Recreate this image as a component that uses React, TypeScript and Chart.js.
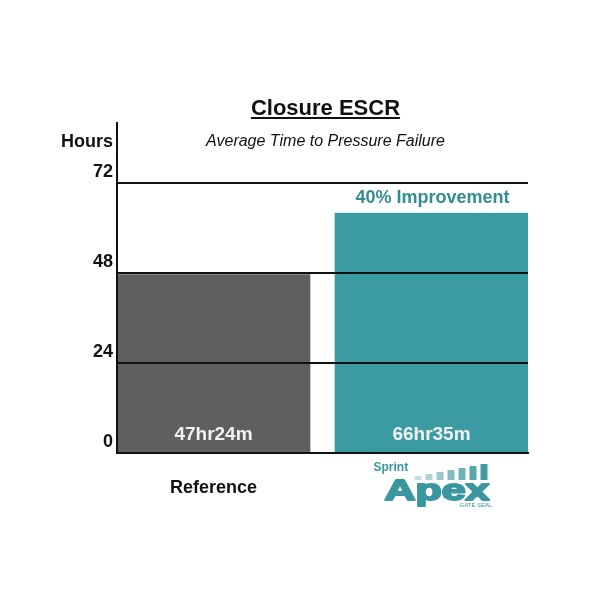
import { useEffect, useRef } from "react";
import { Chart, registerables } from "chart.js";

Chart.register(...registerables);

// Data
const categories = ["Reference", "Sprint Apex"];
const hours = [47.7, 64.1];
const durationLabels = ["47hr24m", "66hr35m"];
const yTicks = [0, 24, 48, 72];
const barColors = ["#5e5f5f", "#3b9ba3"];

const FONT = "'Liberation Sans', Arial, sans-serif";
const TEAL_TEXT = "#338e94";
const GAP = 12.5; // white gap between the bars, drawn as an inner border

const annotations = {
  id: "annotations",
  afterDraw(chart: any) {
    const { ctx, chartArea } = chart;
    const meta = chart.getDatasetMeta(0);
    const centre = (i: number) => {
      const el = meta.data[i];
      return i === 0 ? el.x - GAP / 2 : el.x + GAP / 2;
    };
    const midX = (chartArea.left + chartArea.right) / 2 + 3;

    ctx.save();
    ctx.textBaseline = "alphabetic";

    // title, underlined
    ctx.fillStyle = "#111";
    ctx.font = `bold 22px ${FONT}`;
    ctx.textAlign = "center";
    ctx.fillText("Closure ESCR", midX, 115);
    const tw = ctx.measureText("Closure ESCR").width;
    ctx.fillRect(midX - tw / 2, 117, tw, 2);

    // subtitle
    ctx.font = `italic 16px ${FONT}`;
    ctx.fillText("Average Time to Pressure Failure", midX, 146);

    // axis title
    ctx.font = `bold 18px ${FONT}`;
    ctx.textAlign = "right";
    ctx.fillText("Hours", chartArea.left - 4, 147);

    // bar values
    ctx.textAlign = "center";
    ctx.fillStyle = "#f2f2f2";
    ctx.font = `bold 19px ${FONT}`;
    durationLabels.forEach((t, i) => ctx.fillText(t, centre(i), 440));

    // improvement note above the second bar
    const top1 = meta.data[1].y;
    ctx.fillStyle = TEAL_TEXT;
    ctx.font = `bold 18px ${FONT}`;
    ctx.fillText("40% Improvement", centre(1) + 1, top1 - 10);

    // category labels
    ctx.fillStyle = "#111";
    ctx.font = `bold 18px ${FONT}`;
    ctx.fillText(categories[0], centre(0), 493);

    // logo for the second category
    const lx = centre(1) + 5;
    ctx.fillStyle = "#3a97a0";
    ctx.strokeStyle = "#3a97a0";
    ctx.font = `bold 12px ${FONT}`;
    ctx.textAlign = "left";
    ctx.fillText("Sprint", lx - 63, 471);

    for (let k = 0; k < 7; k++) {
      const h = 4 + k * 2;
      ctx.globalAlpha = 0.3 + k * 0.11;
      ctx.fillRect(lx - 22 + k * 11, 480 - h, 7, h);
    }
    ctx.globalAlpha = 1;

    ctx.save();
    ctx.font = `bold 30px ${FONT}`;
    const aw = ctx.measureText("Apex").width;
    const sx = 105 / aw;
    ctx.translate(lx - 52, 500);
    ctx.scale(sx, 1);
    ctx.lineWidth = 2;
    ctx.lineJoin = "round";
    ctx.fillText("Apex", 0, 0);
    ctx.strokeText("Apex", 0, 0);
    ctx.restore();

    ctx.font = `6px ${FONT}`;
    ctx.fillText("GATE SEAL", lx + 23, 507);
    ctx.restore();
  },
};

export default function App() {
  const canvasRef = useRef<HTMLCanvasElement>(null);

  useEffect(() => {
    if (!canvasRef.current) return;
    const chart = new Chart(canvasRef.current, {
      type: "bar",
      data: {
        labels: categories,
        datasets: [
          {
            data: hours,
            backgroundColor: barColors,
            borderColor: "#ffffff",
            borderWidth: ((c: any) =>
              c.dataIndex === 0
                ? { top: 0, right: GAP, bottom: 0, left: 0 }
                : { top: 0, right: 0, bottom: 0, left: GAP }) as any,
            borderSkipped: false,
            barPercentage: 1,
            categoryPercentage: 1,
          },
        ],
      },
      options: {
        responsive: true,
        maintainAspectRatio: false,
        animation: false,
        layout: { padding: { top: 123, right: 72, bottom: 0, left: 0 } },
        plugins: {
          legend: { display: false },
          tooltip: { enabled: false },
        },
        scales: {
          x: {
            grid: { display: false },
            ticks: { display: false },
            border: { color: "#111", width: 2, z: 1 },
            afterFit: (s: any) => {
              s.height = 147;
            },
          },
          y: {
            min: 0,
            max: 88,
            afterBuildTicks: (s: any) => {
              s.ticks = yTicks.map((v) => ({ value: v }));
            },
            afterFit: (s: any) => {
              s.width = 117;
            },
            grid: { color: "#111", lineWidth: 2, drawTicks: false, z: 1 },
            border: { color: "#111", width: 2, z: 1 },
            ticks: {
              padding: 4,
              labelOffset: -11,
              color: "#111",
              font: { family: FONT, size: 18, weight: "bold" },
            },
          },
        },
      },
      plugins: [annotations],
    });
    return () => chart.destroy();
  }, []);

  return (
    <div style={{ position: "absolute", left: 0, top: 0, width: 600, height: 600, background: "#fff" }}>
      <canvas ref={canvasRef} />
    </div>
  );
}
